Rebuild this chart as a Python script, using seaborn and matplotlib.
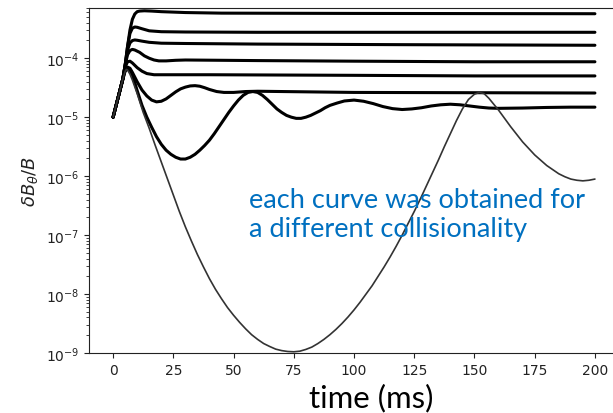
import matplotlib
matplotlib.use("Agg")
import numpy as np
import pandas as pd
import matplotlib.pyplot as plt
import seaborn as sns

# Perturbation amplitude log10(dB_theta / B) versus time (ms), one run per collisionality.
t_run1 = [0, 2, 4, 5, 6, 7, 8, 9, 10, 11, 13, 16, 20, 30, 45, 100, 200]
log_run1 = [-5.0, -4.68, -4.36, -4.12, -3.8, -3.52, -3.34, -3.25, -3.21, -3.2, -3.195,
            -3.2, -3.21, -3.225, -3.235, -3.24, -3.245]

t_run2 = [0, 2, 4, 5, 6, 7, 8, 9, 10, 12, 15, 20, 30, 60, 200]
log_run2 = [-5.0, -4.68, -4.36, -4.12, -3.8, -3.58, -3.49, -3.47, -3.475, -3.5, -3.535,
            -3.55, -3.555, -3.56, -3.56]

t_run3 = [0, 2, 4, 5, 6, 7, 8, 9, 10, 12, 15, 20, 30, 60, 120, 200]
log_run3 = [-5.0, -4.68, -4.36, -4.12, -3.86, -3.74, -3.7, -3.69, -3.695, -3.71, -3.73,
            -3.745, -3.75, -3.76, -3.77, -3.78]

t_run4 = [0, 2, 4, 5, 6, 7, 8, 9, 11, 13, 15, 17, 19, 22, 26, 30, 60, 100, 150, 200]
log_run4 = [-5.0, -4.68, -4.36, -4.12, -3.94, -3.87, -3.85, -3.86, -3.9, -3.96, -4.0,
            -4.03, -4.045, -4.045, -4.035, -4.03, -4.04, -4.05, -4.06, -4.06]

t_run5 = [0, 2, 4, 5, 6, 7, 8, 10, 12, 14, 17, 22, 40, 100, 150, 200]
log_run5 = [-5.0, -4.68, -4.36, -4.15, -4.06, -4.05, -4.08, -4.16, -4.22, -4.26, -4.28,
            -4.28, -4.28, -4.29, -4.3, -4.3]

t_run6 = [0, 2, 4, 5, 6, 7, 8, 10, 12, 14, 16, 18, 20, 22, 24, 26, 28, 30, 32, 34, 36,
          38, 40, 43, 46, 50, 55, 60, 70, 100, 150, 200]
log_run6 = [-5.0, -4.68, -4.36, -4.2, -4.15, -4.17, -4.24, -4.4, -4.54, -4.64, -4.71,
            -4.74, -4.73, -4.69, -4.63, -4.57, -4.52, -4.49, -4.47, -4.465, -4.475,
            -4.5, -4.53, -4.565, -4.58, -4.58, -4.565, -4.56, -4.565, -4.58, -4.585,
            -4.59]

t_run7 = [0, 2, 4, 5, 6, 7, 8, 10, 12, 14, 16, 18, 20, 22, 24, 26, 28, 30, 32, 34, 36,
          38, 40, 42, 44, 46, 48, 50, 52, 54, 56, 58, 60, 62, 64, 66, 68, 70, 72, 74,
          76, 78, 80, 82, 84, 86, 88, 90, 93, 96, 100, 104, 108, 112, 116, 120, 124,
          128, 132, 136, 140, 144, 148, 152, 156, 160, 170, 180, 190, 200]
log_run7 = [-5.0, -4.68, -4.36, -4.22, -4.18, -4.2, -4.28, -4.55, -4.8, -5.0, -5.17,
            -5.33, -5.46, -5.56, -5.63, -5.68, -5.71, -5.71, -5.68, -5.63, -5.56,
            -5.48, -5.39, -5.28, -5.16, -5.04, -4.92, -4.81, -4.71, -4.63, -4.58,
            -4.565, -4.58, -4.63, -4.7, -4.78, -4.86, -4.92, -4.97, -5.0, -5.02,
            -5.02, -5.0, -4.97, -4.93, -4.89, -4.84, -4.8, -4.76, -4.725, -4.71,
            -4.73, -4.77, -4.82, -4.855, -4.87, -4.86, -4.84, -4.81, -4.79, -4.78,
            -4.79, -4.81, -4.83, -4.845, -4.85, -4.845, -4.835, -4.83, -4.83]

t_run8 = [0, 2, 4, 5, 5.5, 6, 7, 8, 10, 12.5, 15, 17.5, 20, 22.5, 25, 27.5, 30, 32.5,
          35, 37.5, 40, 42.5, 45, 47.5, 50, 52.5, 55, 57.5, 60, 62.5, 65, 67.5, 70,
          72.5, 75, 77.5, 80, 82.5, 85, 87.5, 90, 92.5, 95, 97.5, 100, 102.5, 105,
          107.5, 110, 112.5, 115, 117.5, 120, 122.5, 125, 127.5, 130, 132.5, 135,
          137.5, 140, 142.5, 145, 147.5, 150, 152, 154, 156, 158, 160, 162.5, 165,
          167.5, 170, 172.5, 175, 177.5, 180, 182.5, 185, 187.5, 190, 192.5, 195,
          197.5, 200]
log_run8 = [-5.0, -4.68, -4.36, -4.22, -4.19, -4.2, -4.27, -4.37, -4.6, -4.92, -5.19,
            -5.48, -5.76, -6.04, -6.32, -6.6, -6.86, -7.1, -7.33, -7.54, -7.74, -7.92,
            -8.08, -8.23, -8.36, -8.48, -8.59, -8.69, -8.77, -8.84, -8.89, -8.935,
            -8.96, -8.975, -8.98, -8.97, -8.94, -8.9, -8.84, -8.77, -8.69, -8.6, -8.5,
            -8.39, -8.27, -8.14, -8.0, -7.86, -7.7, -7.54, -7.37, -7.19, -7.0, -6.8,
            -6.6, -6.39, -6.17, -5.95, -5.73, -5.5, -5.28, -5.06, -4.86, -4.7, -4.61,
            -4.58, -4.6, -4.68, -4.78, -4.88, -5.02, -5.16, -5.29, -5.42, -5.53, -5.64,
            -5.73, -5.82, -5.89, -5.96, -6.01, -6.05, -6.07, -6.08, -6.07, -6.05]

x_ticks = [0, 25, 50, 75, 100, 125, 150, 175, 200]
y_ticks = [1e-9, 1e-8, 1e-7, 1e-6, 1e-5, 1e-4]

thick_runs = [(t_run1, log_run1), (t_run2, log_run2), (t_run3, log_run3),
              (t_run4, log_run4), (t_run5, log_run5), (t_run6, log_run6),
              (t_run7, log_run7)]

sns.set_theme(style="ticks")
plt.rcParams["font.family"] = ["DejaVu Sans"]

fig = plt.figure(figsize=(6.13, 4.14), dpi=100)
ax = fig.add_axes([0.1452, 0.145, 0.8646, 0.834])

for t, lg in thick_runs:
    df = pd.DataFrame({"time": t, "amp": np.power(10.0, lg)})
    sns.lineplot(data=df, x="time", y="amp", ax=ax, color="black", linewidth=2.2,
                 estimator=None, solid_joinstyle="round")

df8 = pd.DataFrame({"time": t_run8, "amp": np.power(10.0, log_run8)})
sns.lineplot(data=df8, x="time", y="amp", ax=ax, color="#333333", linewidth=1.2,
             estimator=None, solid_joinstyle="round")

ax.set_yscale("log")
ax.set_xlim(-10, 210)
ax.set_ylim(1e-9, 7.2e-4)
ax.set_xticks(x_ticks)
ax.set_yticks(y_ticks)
ax.tick_params(axis="both", which="major", labelsize=10, length=3.5, width=0.8,
               colors="#222222")
ax.tick_params(axis="y", which="minor", length=2, width=0.6, colors="#222222")
for s in ax.spines.values():
    s.set_color("#222222")
    s.set_linewidth(0.8)

ax.set_ylabel(r"$\delta B_\theta/B$", fontsize=13, color="#222222")
ax.set_xlabel("time (ms)", fontsize=22.4, family="Lato", color="black")
ax.xaxis.set_label_coords(0.533, -0.1536)
ax.xaxis.label.set_va("baseline")

fig.text(0.407, 0.4275, "each curve was obtained for\na different collisionality",
         fontsize=19.5, family="Lato", color="#0070C0", ha="left", va="baseline",
         linespacing=1.2)

fig.savefig("out.png", dpi=100)
